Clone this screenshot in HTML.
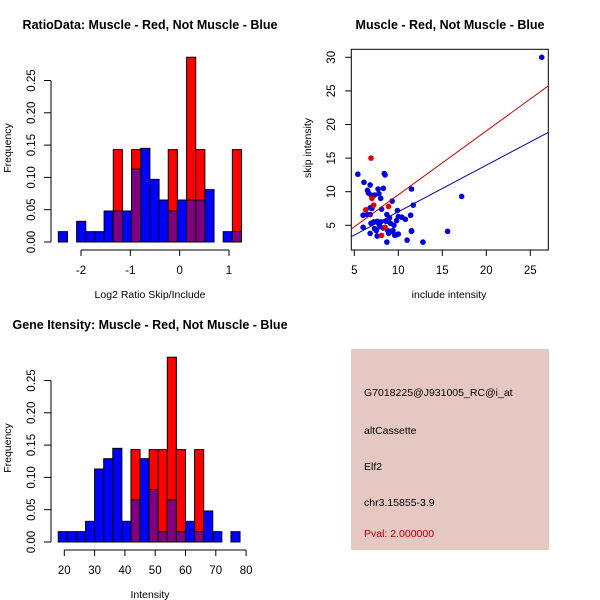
<!DOCTYPE html>
<html><head><meta charset="utf-8"><style>
html,body{margin:0;padding:0;background:#fff;}
svg{display:block;font-family:"Liberation Sans",sans-serif;}
</style></head><body>
<svg id="chart" width="600" height="600" viewBox="0 0 600 600" xmlns="http://www.w3.org/2000/svg"></svg>
<script>
// ---- Ratio histogram data ----
const ratioBinStart = -2.46;
const ratioBinWidth = 0.1857;
const ratioBlue = [0.016,0,0.032,0.016,0.016,0.048,0.048,0.048,0.113,0.145,0.097,0.065,0.048,0.065,0.065,0.065,0.081,0,0.016,0.016];
const ratioRed  = [0,0,0,0,0,0,0.143,0,0.143,0,0,0,0.143,0,0.286,0.143,0,0,0,0.143];
const ratioXTicks = [-2,-1,0,1];
const freqTicks = [0,0.05,0.10,0.15,0.20,0.25];
const freqTickLabels = ["0.00","0.05","0.10","0.15","0.20","0.25"];
// ---- Intensity histogram data ----
const intBinStart = 18;
const intBinWidth = 3;
const intBlue = [0.016,0.016,0.016,0.032,0.113,0.129,0.145,0.032,0.065,0.129,0.081,0.016,0.065,0.016,0.032,0.016,0.048,0.016,0,0.016];
const intRed  = [0,0,0,0,0,0,0,0,0.143,0,0.143,0.143,0.286,0.143,0,0.143,0,0,0,0];
const intXTicks = [20,30,40,50,60,70,80];
// ---- Scatter data ----
const blueX = [26.3,17.2,15.6,12.8,11,8.7,5.4,6.1,6.5,6.6,6.8,6.9,7.3,7.7,7.8,8,8.3,8.4,8.5,11.5,11.7,9.3,9.9,11.4,10.8,10.4,10,9.8,9.5,11.5,11.5,9.8,9.6,9.2,8.9,8.8,8.6,8.7,9,9.1,8.1,6,6.5,6.8,7,6.8,6.9,7.2,7.6,7.8,8,7.3,7.5,7.6,7.9,8.3,6,6.8,9.4,10];
const blueY = [30,9.3,4.1,2.5,2.8,2.5,12.6,11.4,10.2,9.8,11,9.5,9.5,10.4,9.7,9,10.5,12.7,12.5,10.4,8,8.6,7.2,6.5,5.9,6.2,6.3,5.7,5,4.2,4.1,3.6,3.5,4.1,3.8,4.2,5.6,6.6,6.1,5.3,7.4,6.5,6.6,7.6,7.5,6.6,5.3,5.5,5.6,5.2,5.5,4.5,4.2,3.4,4.8,4.6,4.7,3.8,4.2,3.7];
const redX = [6.9,7,7.2,6.3,8.9,8.5,8.1];
const redY = [15,9,8,7.3,7.8,4.7,3.5];
const redFit = [0.02,0.951];   // intercept, slope
const blueFit = [0.08,0.693];
const scatXTicks = [5,10,15,20,25];
const scatYTicks = [5,10,15,20,25,30];

const svg = document.getElementById('chart');
const NS = 'http://www.w3.org/2000/svg';
function mk(tag, attrs, parent){
  const e = document.createElementNS(NS, tag);
  for (const k in attrs) e.setAttribute(k, attrs[k]);
  (parent||svg).appendChild(e);
  return e;
}
function txt(s, x, y, opts, parent){
  const t = mk('text', Object.assign({x:x,y:y,'font-size':11,fill:'#000','text-anchor':'middle'}, opts||{}), parent);
  t.textContent = s;
  return t;
}

function histogram(name, oy, binStart, binW, blue, red, xTicks, xToPx, title, xTitle){
  const g = mk('g', {});
  
  
  const yPx = v => oy + 242 - v * (161.5/0.25);
  const tt = txt(title, 150, oy+29, {'font-size':12.5,'font-weight':'bold'}, g);
  
  
  for (let i=0;i<blue.length;i++){
    const x0 = xToPx(binStart + i*binW), x1 = xToPx(binStart + (i+1)*binW);
    const b = blue[i], r = red[i];
    if (r > 0){
      const rr = mk('rect',{x:x0,y:yPx(r),width:x1-x0,height:yPx(0)-yPx(r),fill:'#ff0000',stroke:'#000','stroke-width':1},g);
      
      
    }
    if (b > 0){
      const col = r > 0 ? '#800080' : '#0000ff';
      const h = r > 0 ? Math.min(b,r) : b;
      const br = mk('rect',{x:x0,y:yPx(h),width:x1-x0,height:yPx(0)-yPx(h),fill:col,stroke:'#000','stroke-width':1},g);
      
      
    }
  }
  const ya = mk('g',{},g);
  
  
  mk('line',{x1:51,x2:51,y1:yPx(0),y2:yPx(0.25),stroke:'#000'},ya);
  freqTicks.forEach((v,i)=>{
    mk('line',{x1:44,x2:51,y1:yPx(v),y2:yPx(v),stroke:'#000'},ya);
    txt(freqTickLabels[i], 0, 0, {transform:`translate(35,${yPx(v)}) rotate(-90)`, 'font-size':11.5}, ya);
  });
  const yt = txt('Frequency', 0,0,{transform:`translate(11,${oy+148}) rotate(-90)`,'font-size':10.5}, g);
  
  
  const xa = mk('g',{},g);
  
  
  const ay = oy + 250;
  mk('line',{x1:xToPx(xTicks[0]),x2:xToPx(xTicks[xTicks.length-1]),y1:ay,y2:ay,stroke:'#000'},xa);
  xTicks.forEach(v=>{
    mk('line',{x1:xToPx(v),x2:xToPx(v),y1:ay,y2:ay+6,stroke:'#000'},xa);
    txt(String(v), xToPx(v), ay+24, {'font-size':11.5}, xa);
  });
  const xt = txt(xTitle, 150, oy+298, {'font-size':10.5}, g);
  
  
}

histogram('ratio-histogram', 0, ratioBinStart, ratioBinWidth, ratioBlue, ratioRed, ratioXTicks,
  v => 81 + (v+2)*49.33, 'RatioData: Muscle - Red, Not Muscle - Blue', 'Log2 Ratio Skip/Include');
histogram('intensity-histogram', 300, intBinStart, intBinWidth, intBlue, intRed, intXTicks,
  v => 64.3 + (v-20)*3.03, 'Gene Itensity: Muscle - Red, Not Muscle - Blue', 'Intensity');

(function(){
  const g = mk('g',{});
  
  
  const xPx = v => 354.3 + (v-5)*8.8;
  const yPx = v => 225.3 - (v-5)*6.72;
  const L=351.3, R=548.3, T=49.3, B=250;
  const cp = mk('clipPath',{id:'sc'},g);
  mk('rect',{x:L,y:T,width:R-L,height:B-T},cp);
  const t = txt('Muscle - Red, Not Muscle - Blue', 450, 29, {'font-size':12.5,'font-weight':'bold'}, g);
  
  
  const box = mk('rect',{x:L,y:T,width:R-L,height:B-T,fill:'none',stroke:'#000'},g);
  
  
  const pts = mk('g',{'clip-path':'url(#sc)'},g);
  for (let i=0;i<blueX.length;i++){
    const c = mk('circle',{cx:xPx(blueX[i]),cy:yPx(blueY[i]),r:2.8,fill:'#0000dd'},pts);
    
    
  }
  for (let i=0;i<redX.length;i++){
    const c = mk('circle',{cx:xPx(redX[i]),cy:yPx(redY[i]),r:2.8,fill:'#dd0000'},pts);
    
    
  }
  const x0=4.5, x1=27.1;
  const rl = mk('line',{x1:xPx(x0),y1:yPx(redFit[0]+redFit[1]*x0),x2:xPx(x1),y2:yPx(redFit[0]+redFit[1]*x1),stroke:'#cc0000','stroke-width':1},pts);
  
  
  const bl = mk('line',{x1:xPx(x0),y1:yPx(blueFit[0]+blueFit[1]*x0),x2:xPx(x1),y2:yPx(blueFit[0]+blueFit[1]*x1),stroke:'#0000aa','stroke-width':1},pts);
  
  
  const xa = mk('g',{},g);
  
  
  scatXTicks.forEach(v=>{
    mk('line',{x1:xPx(v),x2:xPx(v),y1:B,y2:B+6,stroke:'#000'},xa);
    txt(String(v), xPx(v), B+24, {'font-size':11.5}, xa);
  });
  const ya = mk('g',{},g);
  
  
  scatYTicks.forEach(v=>{
    mk('line',{x1:L-6,x2:L,y1:yPx(v),y2:yPx(v),stroke:'#000'},ya);
    txt(String(v), 0,0,{transform:`translate(335,${yPx(v)}) rotate(-90)`,'font-size':11.5}, ya);
  });
  const xt = txt('include intensity', 449, 298, {'font-size':10.5}, g);
  
  
  const yt = txt('skip intensity', 0,0,{transform:'translate(311,148) rotate(-90)','font-size':10.5}, g);
  
  
})();

(function(){
  const g = mk('g',{});
  
  
  mk('rect',{x:351,y:349,width:198,height:201,fill:'#e6c8c2'},g);
  const lines = [['G7018225@J931005_RC@i_at',396,'#000','probe-id'],['altCassette',434,'#000','event-type'],['Elf2',470,'#000','gene-name'],['chr3.15855-3.9',506,'#000','location'],['Pval: 2.000000',537,'#aa0000','p-value']];
  lines.forEach(l=>{
    const t = txt(l[0], 364, l[1], {'text-anchor':'start','font-size':10.5,fill:l[2]}, g);
    
    
  });
})();
</script>
</body></html>
